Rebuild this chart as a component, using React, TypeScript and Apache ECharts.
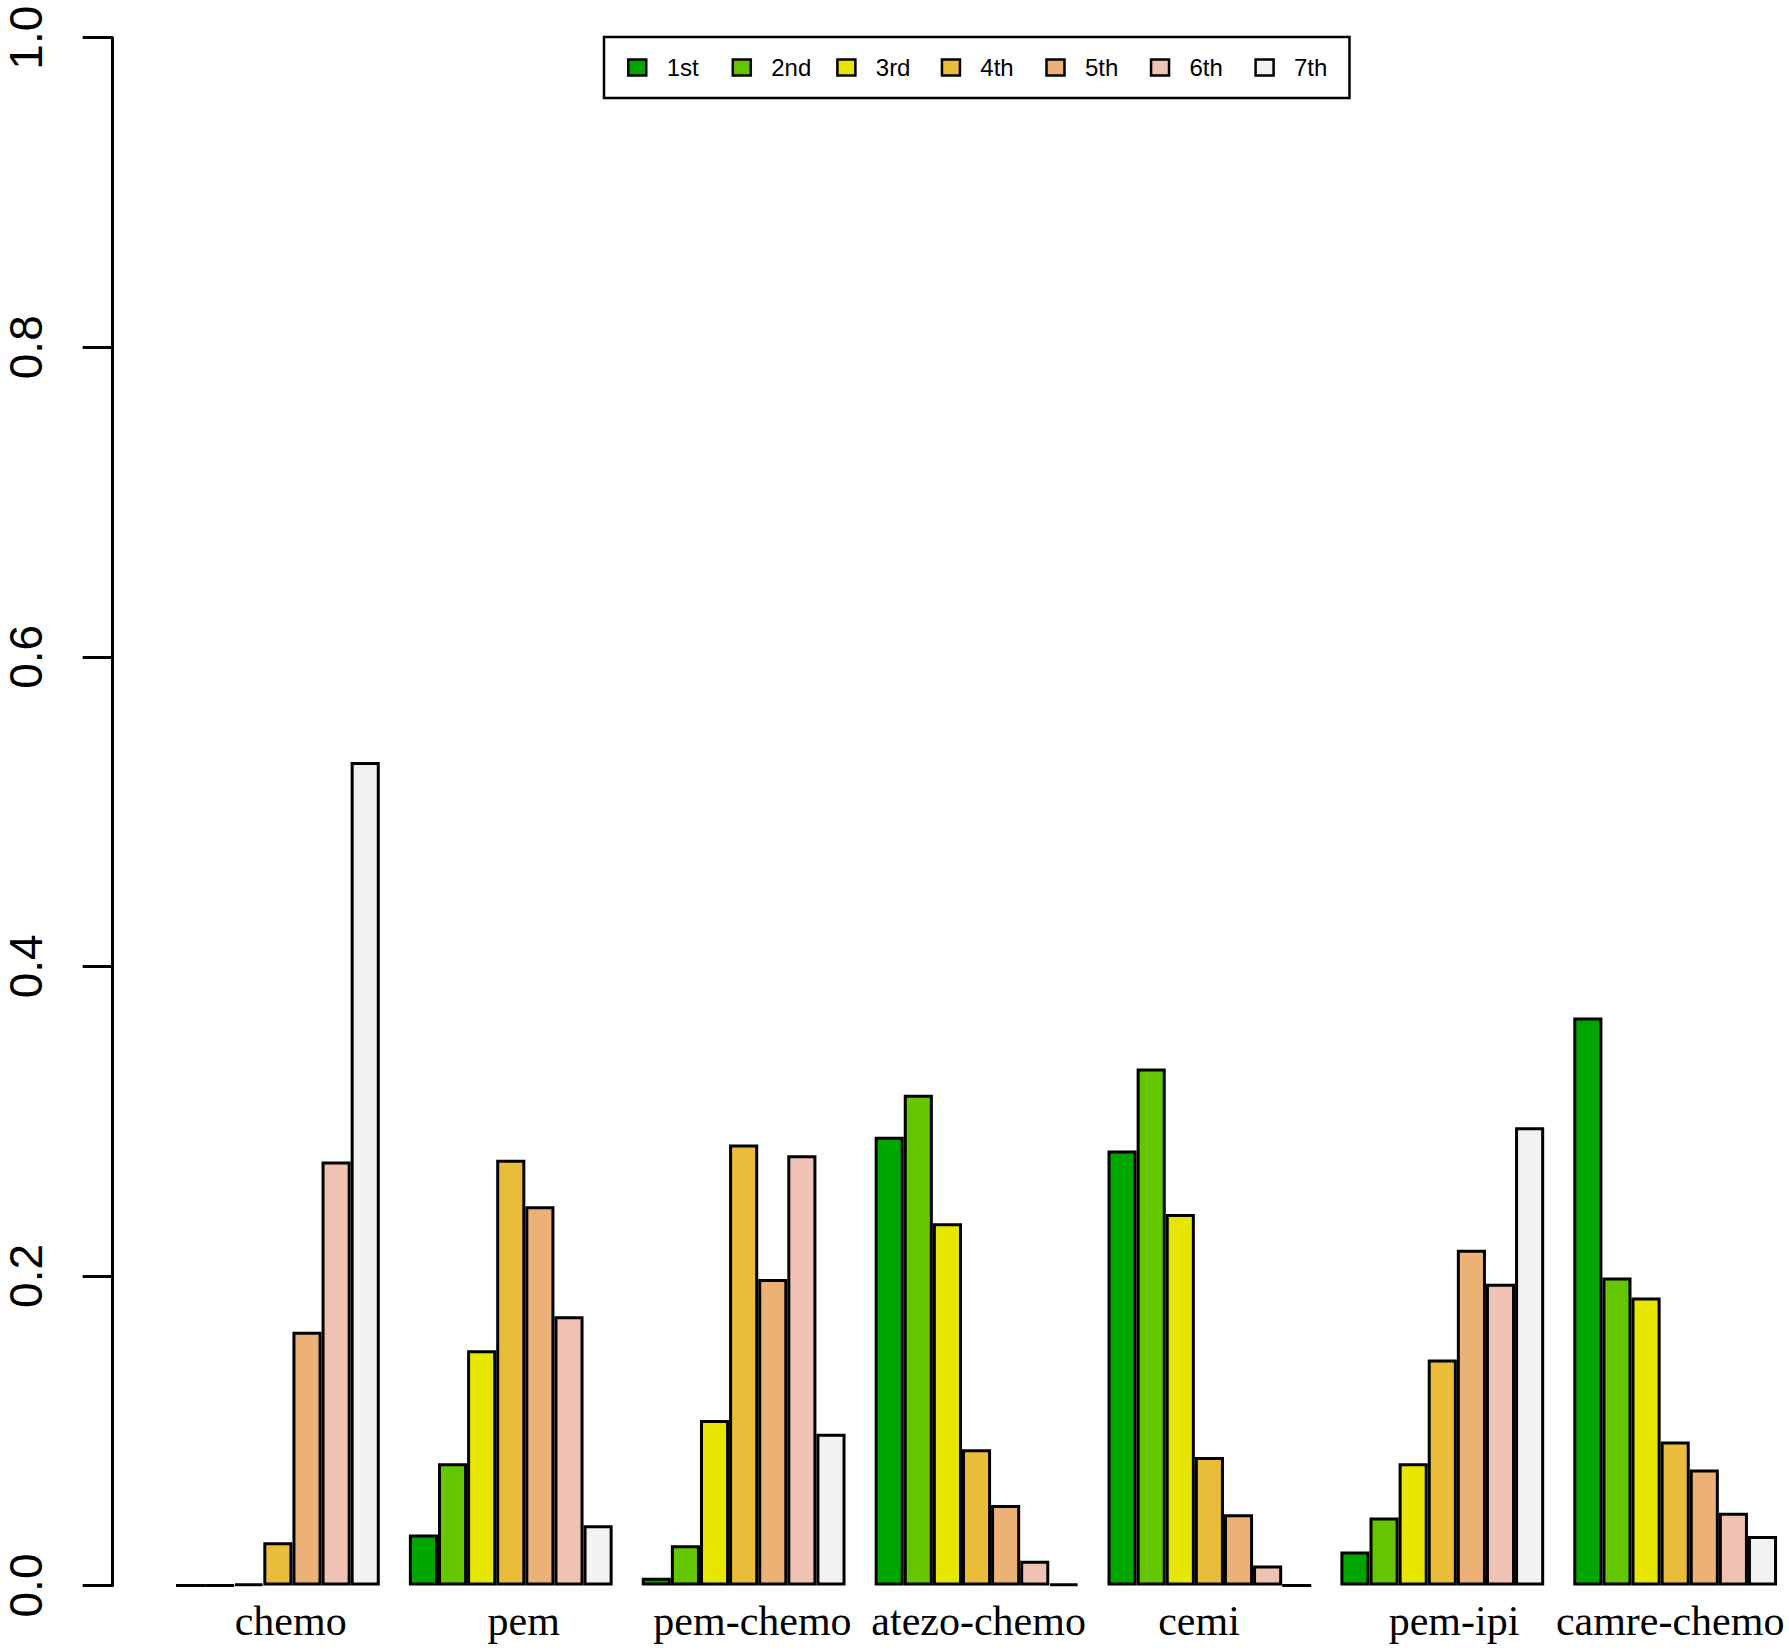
import React, { useEffect, useRef } from "react";
import * as echarts from "echarts";

const categories = ["chemo", "pem", "pem-chemo", "atezo-chemo", "cemi", "pem-ipi", "camre-chemo"];
const ranks = ["1st", "2nd", "3rd", "4th", "5th", "6th", "7th"];
const rankColors = ["#00A600", "#63C600", "#E6E600", "#E9BD3A", "#ECB176", "#EFC2B3", "#F2F2F2"];

const rank1 = [0, 0.033, 0.005, 0.290, 0.281, 0.022, 0.367];
const rank2 = [0, 0.079, 0.026, 0.317, 0.334, 0.044, 0.199];
const rank3 = [0.001, 0.152, 0.107, 0.234, 0.240, 0.079, 0.186];
const rank4 = [0.028, 0.275, 0.285, 0.088, 0.083, 0.146, 0.093];
const rank5 = [0.164, 0.245, 0.198, 0.052, 0.046, 0.217, 0.075];
const rank6 = [0.274, 0.174, 0.278, 0.016, 0.013, 0.195, 0.047];
const rank7 = [0.532, 0.039, 0.098, 0.001, 0, 0.296, 0.032];

const rankValues = [rank1, rank2, rank3, rank4, rank5, rank6, rank7];

const yMin = 0;
const yMax = 1;
const yStep = 0.2;

// horizontal nudges (px) of the category labels relative to the group centres, as in the reference
const labelShift = [12.8, 13, 8.8, 2.1, -10.4, 11.7, -5];

export default function App() {
  const ref = useRef<HTMLDivElement>(null);

  useEffect(() => {
    if (!ref.current) return;
    const chart = echarts.init(ref.current, null, { renderer: "svg" });
    const unit = 29.11;
    const gridLeft = 176 - unit / 2;
    const labelFont = {
      fontFamily: "Liberation Serif, Times New Roman, serif",
      fontSize: 42,
      lineHeight: 42,
      color: "#000",
    };
    const rich: Record<string, any> = {};
    labelShift.forEach((s, i) => {
      rich["c" + i] = {
        ...labelFont,
        padding: s >= 0 ? [0, 0, 0, 2 * s] : [0, -2 * s, 0, 0],
      };
    });
    chart.setOption({
      animation: false,
      backgroundColor: "#ffffff",
      grid: {
        left: gridLeft,
        top: 37.7,
        width: unit * 56,
        height: 1585.5 - 37.7,
        containLabel: false,
        outerBoundsMode: "none",
      },
      legend: {
        data: ranks,
        left: 604,
        top: 37,
        orient: "horizontal",
        icon: "rect",
        itemWidth: 18,
        itemHeight: 16,
        itemGap: 24.9,
        padding: [16.5, 15.5, 16.5, 23],
        borderColor: "#000",
        borderWidth: 2.5,
        borderRadius: 0,
        backgroundColor: "#fff",
        itemStyle: { borderColor: "#000", borderWidth: 2.5 },
        textStyle: {
          fontFamily: "Liberation Sans, Arial, sans-serif",
          fontSize: 24,
          color: "#000",
          lineHeight: 28,
          width: 40,
          padding: [0, 0, 0, 15.4],
        },
        selectedMode: false,
      },
      xAxis: {
        type: "category",
        data: categories,
        axisLine: { show: false },
        axisTick: { show: false },
        splitLine: { show: false },
        axisLabel: {
          interval: 0,
          margin: 14,
          ...labelFont,
          formatter: (v: string, i: number) => `{c${i}|${v}}`,
          rich,
        },
      },
      yAxis: {
        type: "value",
        min: yMin,
        max: yMax,
        interval: yStep,
        offset: gridLeft - 112.7,
        splitLine: { show: false },
        axisLine: { show: true, lineStyle: { color: "#000", width: 3 } },
        axisTick: { show: true, length: 30, lineStyle: { color: "#000", width: 3 } },
        axisLabel: {
          rotate: 90,
          margin: 64,
          color: "#000",
          fontFamily: "Liberation Sans, Arial, sans-serif",
          fontSize: 46,
          lineHeight: 46,
          formatter: (v: number) => v.toFixed(1),
        },
      },
      series: ranks.map((r, i) => ({
        name: r,
        type: "bar",
        data: rankValues[i],
        barGap: "0%",
        barCategoryGap: "12.5%",
        itemStyle: { color: rankColors[i], borderColor: "#000", borderWidth: 3 },
        emphasis: { disabled: true },
      })),
    });
    return () => chart.dispose();
  }, []);

  return (
    <div
      ref={ref}
      style={{ position: "absolute", left: 0, top: 0, width: 1789, height: 1652, background: "#fff" }}
    />
  );
}
